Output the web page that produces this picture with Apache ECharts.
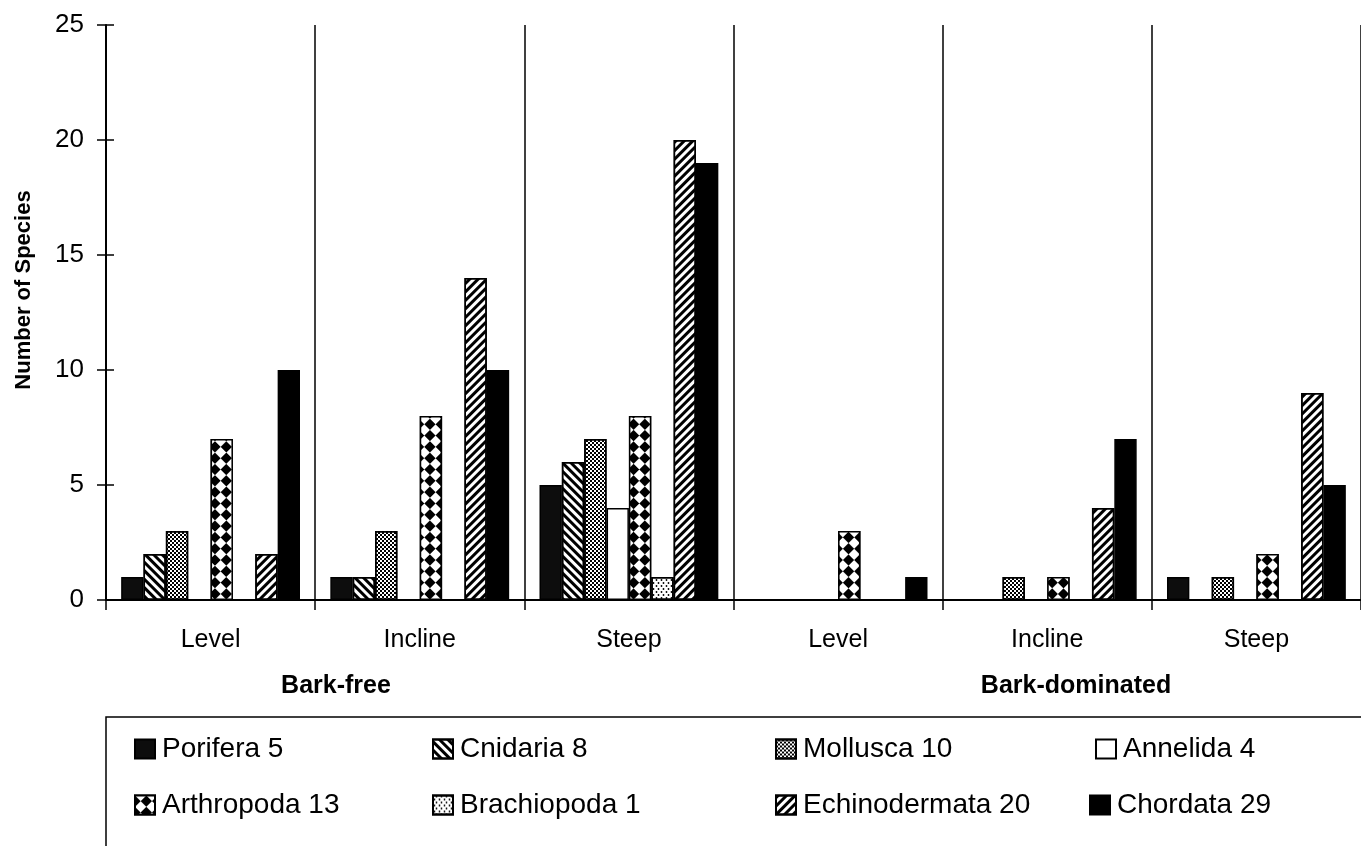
<!DOCTYPE html>
<html>
<head>
<meta charset="utf-8">
<script src="https://cdn.jsdelivr.net/npm/echarts@6/dist/echarts.min.js"></script>
<style>
  html, body { margin: 0; padding: 0; background: #fff; }
  #chart { width: 1361px; height: 846px; }
</style>
</head>
<body>
<div id="chart"></div>
<script>
// categories on the x axis (3 slopes x 2 substrates)
var categories = ['Level', 'Incline', 'Steep', 'Level', 'Incline', 'Steep'];
var groups = ['Bark-free', 'Bark-dominated'];

// phyla and total species counts shown in the legend
var taxa = ['Porifera', 'Cnidaria', 'Mollusca', 'Annelida', 'Arthropoda', 'Brachiopoda', 'Echinodermata', 'Chordata'];
var totals = [5, 8, 10, 4, 13, 1, 20, 29];

// number of species per category
var porifera      = [1, 1, 5, 0, 0, 1];
var cnidaria      = [2, 1, 6, 0, 0, 0];
var mollusca      = [3, 3, 7, 0, 1, 1];
var annelida      = [0, 0, 4, 0, 0, 0];
var arthropoda    = [7, 8, 8, 3, 1, 2];
var brachiopoda   = [0, 0, 1, 0, 0, 0];
var echinodermata = [2, 14, 20, 0, 4, 9];
var chordata      = [10, 10, 19, 1, 7, 5];

var values = [porifera, cnidaria, mollusca, annelida, arthropoda, brachiopoda, echinodermata, chordata];

var yTicks = { min: 0, max: 25, interval: 5 };

var FONT = '"Liberation Sans", Arial, Helvetica, sans-serif';

// fill + decal pattern for each phylum (black & white print look)
var styles = [
  { color: '#0d0d0d' },
  { color: '#fff', decal: { symbol: 'rect', color: '#000', dashArrayX: [1, 0], dashArrayY: [3, 3], rotation: Math.PI / 4 } },
  { color: '#fff', decal: { symbol: 'rect', color: '#000', dashArrayX: [[2, 2], [0, 2, 2, 0]], dashArrayY: [2, 0] } },
  { color: '#fff' },
  { color: '#000', decal: { symbol: 'rect', color: '#fff', dashArrayX: [[8, 8], [0, 8, 8, 0]], dashArrayY: [8, 0], rotation: Math.PI / 4 } },
  { color: '#fff', decal: { symbol: 'circle', symbolSize: 0.9, color: '#000', dashArrayX: [[3, 2], [0, 2, 3, 0]], dashArrayY: [2, 1] } },
  { color: '#fff', decal: { symbol: 'rect', color: '#000', dashArrayX: [1, 0], dashArrayY: [3, 3], rotation: -Math.PI / 4 } },
  { color: '#000' }
];

// legend slots: [left, top]
var legendSlots = [[129, 730], [427, 730], [770, 730], [1090, 730],
                   [129, 786], [427, 786], [770, 786], [1084, 786]];

var names = taxa.map(function (t, i) { return t + ' ' + totals[i]; });

var series = taxa.map(function (t, i) {
  var st = styles[i];
  return {
    name: names[i],
    type: 'bar',
    data: values[i],
    barGap: '0%',
    barCategoryGap: '14.5%',
    itemStyle: {
      color: st.color,
      decal: st.decal || null,
      borderColor: '#000',
      borderWidth: 1.5
    }
  };
});

var legends = names.map(function (n, k) {
  return {
    data: [{ name: n, icon: 'rect' }],
    left: legendSlots[k][0],
    top: legendSlots[k][1],
    orient: 'horizontal',
    itemWidth: 20,
    itemHeight: 19,
    selectedMode: false,
    textStyle: { fontFamily: FONT, fontSize: 28, color: '#000', padding: [0, 0, 0, 2] }
  };
});

var chart = echarts.init(document.getElementById('chart'));

chart.setOption({
  backgroundColor: '#fff',
  animation: false,
  aria: { enabled: false },
  grid: { left: 106, top: 25, width: 1267, height: 575 },
  legend: legends,
  xAxis: {
    type: 'category',
    data: categories,
    boundaryGap: true,
    axisLine: { lineStyle: { color: '#000', width: 2 } },
    axisTick: { show: true, length: 10, lineStyle: { color: '#000', width: 1.5 } },
    splitLine: { show: true, lineStyle: { color: '#000', width: 1.5 } },
    axisLabel: { fontFamily: FONT, fontSize: 25, color: '#000', margin: 28 }
  },
  yAxis: [{
    type: 'value',
    min: yTicks.min,
    max: yTicks.max,
    interval: yTicks.interval,
    axisLine: { show: true, lineStyle: { color: '#000', width: 2 } },
    axisTick: { show: true, length: 9, lineStyle: { color: '#000', width: 1.5 } },
    splitLine: { show: false },
    axisLabel: { fontFamily: FONT, fontSize: 26, color: '#000', margin: 22 }
  }, {
    // inner half of the crossing tick marks
    type: 'value',
    position: 'left',
    min: yTicks.min,
    max: yTicks.max,
    interval: yTicks.interval,
    axisLine: { show: false },
    axisTick: { show: true, inside: true, length: 8, lineStyle: { color: '#000', width: 1.5 } },
    axisLabel: { show: false },
    splitLine: { show: false }
  }],
  series: series,
  graphic: [
    {
      type: 'text',
      x: 24, y: 290,
      rotation: Math.PI / 2,
      style: { text: 'Number of Species', fontFamily: FONT, fontSize: 22, fontWeight: 'bold', fill: '#000', align: 'center', verticalAlign: 'middle' }
    },
    {
      type: 'text',
      x: 336, y: 686,
      style: { text: groups[0], fontFamily: FONT, fontSize: 25, fontWeight: 'bold', fill: '#000', align: 'center', verticalAlign: 'middle' }
    },
    {
      type: 'text',
      x: 1076, y: 686,
      style: { text: groups[1], fontFamily: FONT, fontSize: 25, fontWeight: 'bold', fill: '#000', align: 'center', verticalAlign: 'middle' }
    },
    {
      type: 'rect',
      shape: { x: 106, y: 717, width: 1300, height: 200 },
      style: { fill: 'none', stroke: '#000', lineWidth: 1.5 }
    }
  ]
});
</script>
</body>
</html>
